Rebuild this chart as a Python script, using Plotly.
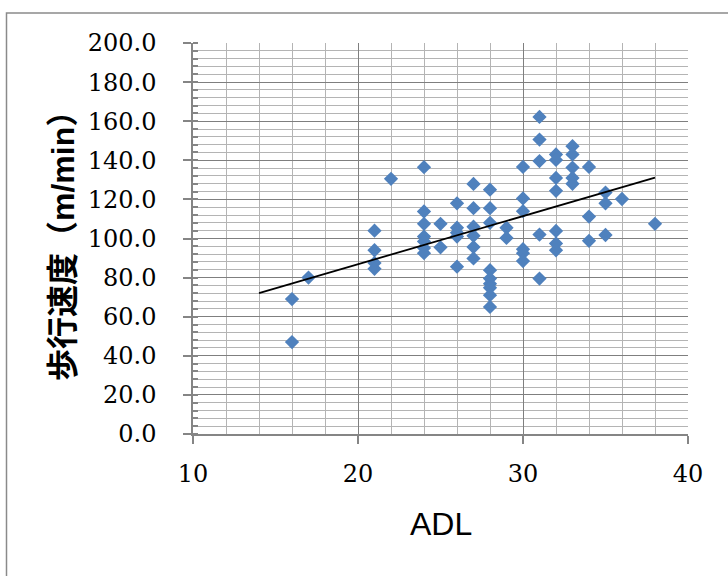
import plotly.graph_objects as go

# ---- data ----
adl = (
    [16, 16, 17]
    + [21, 21, 21, 21, 22]
    + [24] * 7 + [25] * 2 + [26] * 5 + [27] * 6 + [28] * 9 + [29] * 2
    + [30] * 6 + [31] * 5 + [32] * 7 + [33] * 5 + [34] * 3 + [35] * 3 + [36, 38]
)
speed = [
    69.0, 47.0, 80.0,
    104.0, 94.0, 87.5, 84.5, 130.5,
    136.5, 113.8, 107.5, 101.0, 98.5, 95.2, 92.5,
    107.5, 95.5,
    118.0, 105.5, 103.0, 101.0, 85.6,
    127.9, 115.5, 106.0, 101.4, 95.6, 89.8,
    125.0, 115.5, 108.0, 83.8, 79.5, 76.8, 74.8, 71.0, 65.0,
    105.5, 100.3,
    136.6, 120.5, 114.0, 94.5, 92.5, 88.5,
    162.2, 150.6, 139.6, 102.0, 79.5,
    143.0, 140.2, 131.0, 124.4, 103.9, 97.5, 94.0,
    147.2, 143.0, 136.3, 131.0, 128.0,
    136.6, 111.2, 98.8,
    123.5, 118.0, 101.8,
    120.2, 107.5,
]
trend_x = [14, 38]
trend_y = [72.1, 131.1]

x_title = "ADL"
y_title = "歩行速度（m/min）"

fig = go.Figure()
fig.add_trace(go.Scatter(
    x=adl, y=speed, mode="markers",
    marker=dict(symbol="diamond", size=11, color="#4F81BD", line=dict(width=0)),
    showlegend=False, hoverinfo="x+y",
))
fig.add_trace(go.Scatter(
    x=trend_x, y=trend_y, mode="lines",
    line=dict(color="black", width=1.8),
    showlegend=False, hoverinfo="skip",
))

L, R, T, B = 193, 40, 43, 142
W, H = 728, 576
pw, ph = W - L - R, H - T - B

tickfont = dict(family="DejaVu Serif", size=24, color="black")
major_c, minor_c = "#7F7F7F", "#B4B4B4"

fig.update_layout(
    width=W, height=H,
    margin=dict(l=L, r=R, t=T, b=B, pad=0, autoexpand=False),
    paper_bgcolor="white", plot_bgcolor="white",
    xaxis=dict(
        range=[10, 40], dtick=10, tick0=10, automargin=False,
        showgrid=True, gridcolor=major_c, gridwidth=1,
        minor=dict(dtick=2, showgrid=True, gridcolor=minor_c, gridwidth=1, ticks=""),
        showline=True, linecolor="#858585", linewidth=1.5,
        ticks="outside", ticklen=8, tickcolor="#858585", tickwidth=1.5,
        tickfont=tickfont, ticklabelstandoff=9,
        zeroline=False, fixedrange=True,
    ),
    yaxis=dict(
        range=[0, 200], dtick=20, tick0=0, tickformat=".1f", automargin=False,
        showgrid=True, gridcolor=major_c, gridwidth=1,
        minor=dict(dtick=4, showgrid=True, gridcolor=minor_c, gridwidth=1,
                   ticks="inside", ticklen=5, tickcolor="#858585"),
        showline=True, linecolor="#858585", linewidth=1.5,
        ticks="outside", ticklen=8, tickcolor="#858585", tickwidth=1.5,
        tickfont=tickfont, ticklabelstandoff=22,
        zeroline=False, fixedrange=True,
    ),
    shapes=[dict(
        type="rect", xref="paper", yref="paper",
        x0=(6.5 - L) / pw, x1=1.2, y0=-0.6, y1=(T + ph - 13) / ph,
        line=dict(color="#8A8A8A", width=1.5), fillcolor="rgba(0,0,0,0)", layer="below",
    )],
    annotations=[
        dict(text=y_title, xref="paper", yref="paper",
             x=(63 - L) / pw, y=(T + ph - 238) / ph,
             xanchor="center", yanchor="middle", textangle=-90, showarrow=False,
             font=dict(family="Liberation Sans, Noto Sans CJK JP", size=32, color="black", weight="bold")),
        dict(text=x_title, xref="paper", yref="paper",
             x=0.5, y=(T + ph - 523.5) / ph,
             xanchor="center", yanchor="middle", showarrow=False,
             font=dict(family="Liberation Sans", size=32, color="black")),
    ],
)

fig.write_html(
    "out.html",
    config={"displayModeBar": False},
    post_script="document.body.style.margin='0';document.body.style.overflow='hidden';",
)
